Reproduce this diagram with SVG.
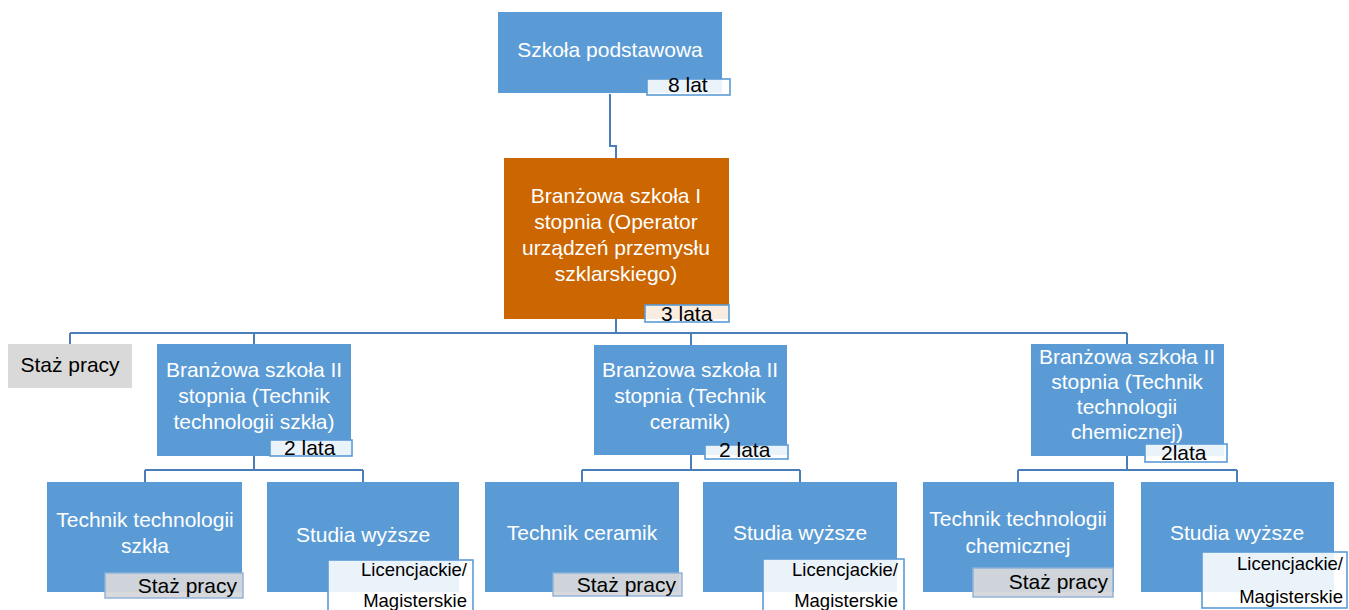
<svg xmlns="http://www.w3.org/2000/svg" width="1349" height="610" viewBox="0 0 1349 610">
<style>
.box{fill:#5B9BD5;}
.org{fill:#CC6600;}
.gray{fill:#D9D9D9;}
.lbl{fill:#FFFFFF;fill-opacity:0.88;stroke:#5B9BD5;stroke-width:1.6;}
.slbl{fill:#D5D7DA;fill-opacity:0.95;stroke:#8FB0D8;stroke-width:1.4;}
.wt{font-family:"Liberation Sans",Arial,sans-serif;font-size:21px;fill:#FFFFFF;text-anchor:middle;}
.bt{font-family:"Liberation Sans",Arial,sans-serif;font-size:21px;fill:#000000;}
.st{font-family:"Liberation Sans",Arial,sans-serif;font-size:18.5px;fill:#000000;text-anchor:end;}
.conn{fill:none;stroke:#4A7EBB;stroke-width:2;}
</style>
<rect width="1349" height="610" fill="#FFFFFF"/>
<g id="connectors" class="conn">
<path d="M610,94 V146 H616 V158"/>
<path d="M616,319 V333"/>
<path d="M70,333 H1127"/>
<path d="M70,333 V344 M254,333 V344 M691,333 V345 M1127,333 V344"/>
<path d="M254,456 V470 M145,470 H363 M145,470 V482 M363,470 V482"/>
<path d="M691,455 V470 M582,470 H800 M582,470 V482 M800,470 V482"/>
<path d="M1127,456 V470 M1018,470 H1237 M1018,470 V482 M1237,470 V482"/>
</g>
<g id="node-szkola-podstawowa">
<rect class="box" x="498" y="12" width="224" height="81"/>
<text class="wt" x="610" y="57">Szkoła podstawowa</text>
<rect class="lbl" x="647" y="79" width="83" height="16"/>
<text class="bt" x="668" y="92">8 lat</text>
</g>
<g id="node-branzowa-I">
<rect class="org" x="504" y="158" width="225" height="161"/>
<text class="wt" x="616" y="203">Branżowa szkoła I</text>
<text class="wt" x="616" y="229">stopnia (Operator</text>
<text class="wt" x="616" y="255">urządzeń przemysłu</text>
<text class="wt" x="616" y="281">szklarskiego)</text>
<rect class="lbl" x="645" y="305" width="84" height="17"/>
<text class="bt" x="661" y="321">3 lata</text>
</g>
<g id="node-staz-top">
<rect class="gray" x="8" y="344" width="124" height="44"/>
<text class="bt" x="70" y="372" text-anchor="middle">Staż pracy</text>
</g>
<g id="node-branzowa-II-szklo">
<rect class="box" x="157" y="344" width="194" height="112"/>
<text class="wt" x="254" y="377">Branżowa szkoła II</text>
<text class="wt" x="254" y="403">stopnia (Technik</text>
<text class="wt" x="254" y="429">technologii szkła)</text>
<rect class="lbl" x="270" y="440" width="82" height="16"/>
<text class="bt" x="284" y="455">2 lata</text>
</g>
<g id="node-branzowa-II-ceramik">
<rect class="box" x="594" y="345" width="193" height="110"/>
<text class="wt" x="690" y="377">Branżowa szkoła II</text>
<text class="wt" x="690" y="403">stopnia (Technik</text>
<text class="wt" x="690" y="429">ceramik)</text>
<rect class="lbl" x="705" y="445" width="83" height="14"/>
<text class="bt" x="719" y="457">2 lata</text>
</g>
<g id="node-branzowa-II-chem">
<rect class="box" x="1031" y="344" width="193" height="112"/>
<text class="wt" x="1127" y="364">Branżowa szkoła II</text>
<text class="wt" x="1127" y="389">stopnia (Technik</text>
<text class="wt" x="1127" y="414">technologii</text>
<text class="wt" x="1127" y="439">chemicznej)</text>
<rect class="lbl" x="1145" y="444" width="82" height="18"/>
<text class="bt" x="1161" y="460">2lata</text>
</g>
<g id="node-technik-szkla">
<rect class="box" x="47" y="482" width="195" height="110"/>
<text class="wt" x="145" y="527">Technik technologii</text>
<text class="wt" x="145" y="553">szkła</text>
<rect class="slbl" x="105" y="573" width="138" height="25"/>
<text class="bt" x="237" y="593" text-anchor="end">Staż pracy</text>
</g>
<g id="node-studia-1">
<rect class="box" x="267" y="482" width="192" height="110"/>
<text class="wt" x="363" y="542">Studia wyższe</text>
<rect class="lbl" x="328" y="560" width="145" height="56"/>
<text class="st" x="467" y="576">Licencjackie/</text>
<text class="st" x="467" y="607">Magisterskie</text>
</g>
<g id="node-technik-ceramik">
<rect class="box" x="485" y="482" width="194" height="110"/>
<text class="wt" x="582" y="540">Technik ceramik</text>
<rect class="slbl" x="553" y="573" width="129" height="23"/>
<text class="bt" x="676" y="592" text-anchor="end">Staż pracy</text>
</g>
<g id="node-studia-2">
<rect class="box" x="703" y="482" width="194" height="110"/>
<text class="wt" x="800" y="540">Studia wyższe</text>
<rect class="lbl" x="763" y="559" width="141" height="57"/>
<text class="st" x="898" y="576">Licencjackie/</text>
<text class="st" x="898" y="607">Magisterskie</text>
</g>
<g id="node-technik-chem">
<rect class="box" x="923" y="482" width="191" height="110"/>
<text class="wt" x="1018" y="526">Technik technologii</text>
<text class="wt" x="1018" y="553">chemicznej</text>
<rect class="slbl" x="973" y="568" width="140" height="29"/>
<text class="bt" x="1108" y="589" text-anchor="end">Staż pracy</text>
</g>
<g id="node-studia-3">
<rect class="box" x="1141" y="482" width="193" height="110"/>
<text class="wt" x="1237" y="540">Studia wyższe</text>
<rect class="lbl" x="1202" y="552" width="145" height="56"/>
<text class="st" x="1343" y="570">Licencjackie/</text>
<text class="st" x="1343" y="603">Magisterskie</text>
</g>
</svg>
